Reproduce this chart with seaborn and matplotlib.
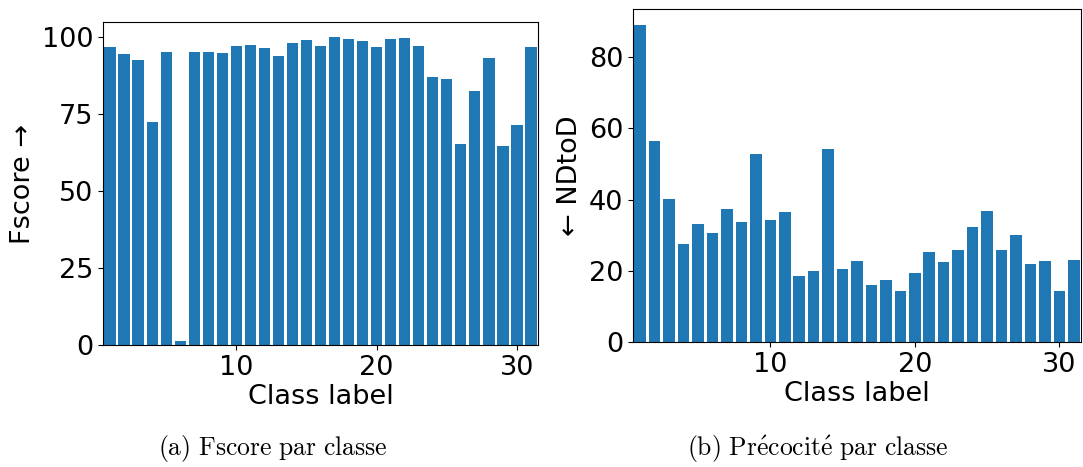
import matplotlib
matplotlib.use("Agg")
import matplotlib.pyplot as plt
import seaborn as sns
import numpy as np

classes = list(range(1, 32))
fscore = [97.0, 94.7, 92.7, 72.6, 95.3, 1.3, 95.3, 95.3, 95.0, 97.3,
          97.6, 96.6, 94.0, 98.3, 99.3, 97.3, 100.0, 99.6, 98.9, 97.0,
          99.6, 99.9, 97.3, 87.2, 86.6, 65.4, 82.7, 93.4, 64.8, 71.6, 97.0]
ndtod = [89.0, 56.4, 40.2, 27.6, 33.2, 30.6, 37.4, 33.7, 52.8, 34.3,
         36.5, 18.6, 20.0, 54.2, 20.5, 22.8, 16.1, 17.5, 14.4, 19.4,
         25.3, 22.5, 25.9, 32.3, 36.8, 25.9, 30.1, 21.9, 22.8, 14.4, 23.1]
xlabel = "Class label"
ylabel_a = "Fscore \u2192"
ylabel_b = "\u2190 NDtoD"
caption_a = r"$\mathrm{(a)\ Fscore\ par\ classe}$"
caption_b = r"$\mathrm{(b)\ Pr\acute{e}cocit\acute{e}\ par\ classe}$"

plt.rcParams["font.family"] = ["DejaVu Sans"]
plt.rcParams["mathtext.fontset"] = "cm"
FS = 19.5
W, H = 1083, 467
fig = plt.figure(figsize=(W / 100, H / 100), dpi=100)

ax1 = fig.add_axes([103 / W, (H - 345) / H, 435 / W, 323 / H])
ax2 = fig.add_axes([633 / W, (H - 342.3) / H, 448 / W, 333.3 / H])

for ax, vals, yl in [(ax1, fscore, ylabel_a), (ax2, ndtod, ylabel_b)]:
    sns.barplot(x=classes, y=vals, ax=ax, native_scale=True, color="#1f77b4",
                saturation=1, errorbar=None, width=0.8, linewidth=0)
    ax.set_xlim(0.5, 31.5)
    ax.set_ylim(0, max(vals) * 1.05)
    ax.set_xticks([10, 20, 30])
    ax.set_xlabel(xlabel, fontsize=FS, labelpad=2)
    ax.set_ylabel(yl, fontsize=FS)
    ax.tick_params(labelsize=FS)

ax1.set_yticks([0, 25, 50, 75, 100])
ax2.set_yticks([0, 20, 40, 60, 80])

fig.text(273 / W, 1 - 449 / H, caption_a, ha="center", va="center", fontsize=18.5)
fig.text(818 / W, 1 - 449 / H, caption_b, ha="center", va="center", fontsize=18.5)

fig.savefig("out.png", dpi=100)
